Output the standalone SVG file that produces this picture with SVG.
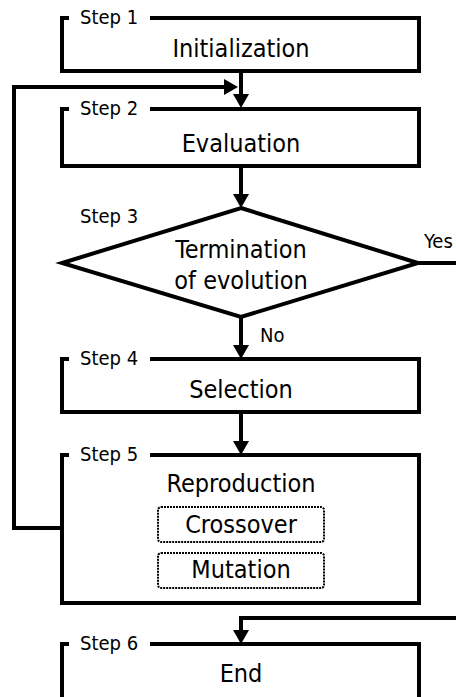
<svg xmlns="http://www.w3.org/2000/svg" width="456" height="697" viewBox="0 0 456 697">
  <style>
    .frame { fill: none; stroke: #000; stroke-width: 4; stroke-linejoin: miter; }
    .dia { fill: #fff; stroke: #000; stroke-width: 4; stroke-linejoin: miter; }
    .sub { fill: none; stroke: #000; stroke-width: 2; stroke-dasharray: 2 1; }
    .conn { fill: none; stroke: #000; stroke-width: 4; stroke-linejoin: miter; }
    .main { font-family: "DejaVu Sans Condensed", "DejaVu Sans", sans-serif; font-stretch: condensed; font-size: 25px; fill: #000; text-anchor: middle; }
    .step { font-family: "DejaVu Sans Condensed", "DejaVu Sans", sans-serif; font-stretch: condensed; font-size: 20px; fill: #000; }
  </style>
  <defs>
    <marker id="arr" markerUnits="userSpaceOnUse" markerWidth="16" markerHeight="18" refX="2" refY="8" orient="auto" viewBox="0 0 16 16">
      <path d="M0,0 L14,8 L0,16 Z" fill="#000"/>
    </marker>
  </defs>
  <rect width="456" height="697" fill="#fff"/>

  <g id="connectors">
    <path class="conn" d="M241,71 V96" marker-end="url(#arr)"/>
    <path class="conn" d="M62,528 H14 V87 H226" marker-end="url(#arr)"/>
    <path class="conn" d="M241,166 V196" marker-end="url(#arr)"/>
    <path class="conn" d="M241,317 V347" marker-end="url(#arr)"/>
    <path class="conn" d="M241,412 V443" marker-end="url(#arr)"/>
    <path class="conn" d="M418,263 H458"/>
    <path class="conn" d="M458,618 H241 V632" marker-end="url(#arr)"/>
    <text class="step" x="424" y="248">Yes</text>
    <text class="step" x="260" y="342">No</text>
  </g>

  <g id="step1">
    <path class="frame" d="M69,18 H62 V71 H419 V18 H150"/>
    <text class="step" x="80" y="24">Step 1</text>
    <text class="main" x="241" y="57">Initialization</text>
  </g>

  <g id="step2">
    <path class="frame" d="M69,109 H62 V166 H419 V109 H150"/>
    <text class="step" x="80" y="115">Step 2</text>
    <text class="main" x="241" y="152">Evaluation</text>
  </g>

  <g id="step3">
    <polygon class="dia" points="241,208 418,263 241,317 62,263"/>
    <text class="step" x="80" y="223">Step 3</text>
    <text class="main" x="241" y="258">Termination</text>
    <text class="main" x="241" y="289">of evolution</text>
  </g>

  <g id="step4">
    <path class="frame" d="M69,359 H62 V412 H419 V359 H150"/>
    <text class="step" x="80" y="365">Step 4</text>
    <text class="main" x="241" y="398">Selection</text>
  </g>

  <g id="step5">
    <path class="frame" d="M69,455 H62 V603 H419 V455 H150"/>
    <text class="step" x="80" y="461">Step 5</text>
    <text class="main" x="241" y="492">Reproduction</text>
    <g id="crossover">
      <rect class="sub" x="158" y="507" width="166" height="35" rx="3"/>
      <text class="main" x="241" y="533">Crossover</text>
    </g>
    <g id="mutation">
      <rect class="sub" x="158" y="553" width="166" height="35" rx="3"/>
      <text class="main" x="241" y="578">Mutation</text>
    </g>
  </g>

  <g id="step6">
    <path class="frame" d="M69,644 H62 V702 M419,702 V644 H150"/>
    <text class="step" x="80" y="650">Step 6</text>
    <text class="main" x="241" y="682">End</text>
  </g>
</svg>
